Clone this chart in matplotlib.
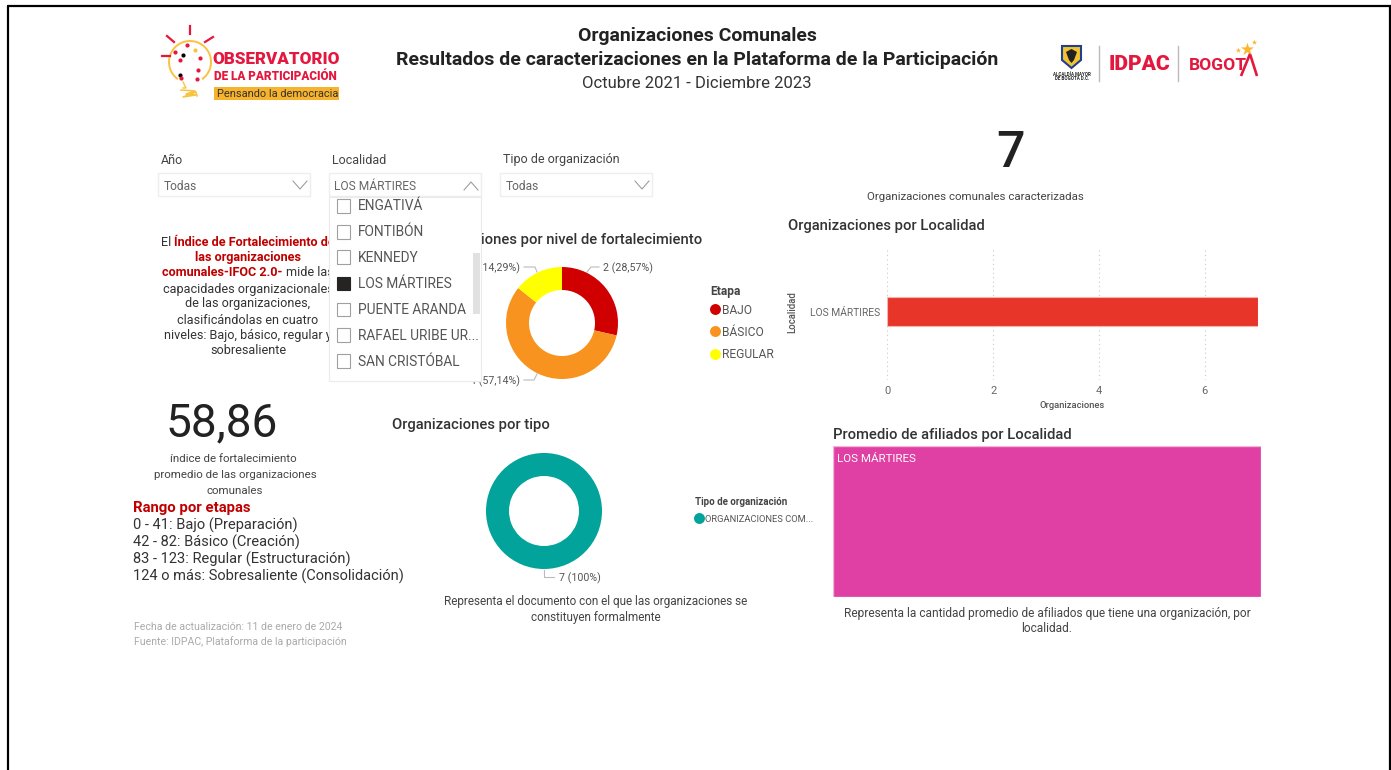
import matplotlib
matplotlib.use("Agg")
import matplotlib.pyplot as plt
from matplotlib.patches import Rectangle, Polygon, Arc

plt.rcParams['font.family'] = ['Roboto', 'DejaVu Sans']

W, H = 1391, 770
DPI = 100

# ---- data ----
etapas = ['BAJO', 'BÁSICO', 'REGULAR']
etapa_values = [2, 4, 1]
etapa_labels = ['2 (28,57%)', '4 (57,14%)', '1 (14,29%)']
etapa_colors = ['#D10000', '#F7931E', '#FFFF00']

tipos = ['ORGANIZACIONES COM...']
tipo_values = [7]
tipo_labels = ['7 (100%)']
tipo_colors = ['#01A39A']

localidades = ['LOS MÁRTIRES']
localidad_values = [7]
localidad_ticks = [0, 2, 4, 6]

afiliados_localidades = ['LOS MÁRTIRES']
afiliados_share = [1]

total_org = '7'
indice = '58,86'

slicer_items = ['ENGATIVÁ', 'FONTIBÓN', 'KENNEDY', 'LOS MÁRTIRES',
                'PUENTE ARANDA', 'RAFAEL URIBE UR...', 'SAN CRISTÓBAL']
slicer_selected = 'LOS MÁRTIRES'

rangos = ['0 - 41: Bajo (Preparación)', '42 - 82: Básico (Creación)',
          '83 - 123: Regular (Estructuración)', '124 o más: Sobresaliente (Consolidación)']

DARK = '#333333'


def px(s):
    return s * 72 / DPI


fig = plt.figure(figsize=(W / DPI, H / DPI), dpi=DPI, facecolor='white')


def make_axes(x0, y0, x1, y1, z):
    return fig.add_axes([x0 / W, 1 - y1 / H, (x1 - x0) / W, (y1 - y0) / H], zorder=z)


bg = make_axes(0, 0, W, H, 0)
bg.set_xlim(0, W)
bg.set_ylim(H, 0)
bg.axis('off')
top = make_axes(0, 0, W, H, 5)
top.set_xlim(0, W)
top.set_ylim(H, 0)
top.axis('off')
top.patch.set_alpha(0)


def T(x, y, s, size=12, color=DARK, ha='left', va='center', weight='normal', ax=bg, **kw):
    return ax.text(x, y, s, fontsize=px(size), color=color, ha=ha, va=va,
                   fontweight=weight, **kw)


# frame
for xs, ys in [((8, 8), (6, H)), ((7, 1390.5), (6, 6)), ((1389.5, 1389.5), (6, H))]:
    bg.plot(xs, ys, color='black', lw=2.2 * 0.72, solid_capstyle='butt')

# header
T(697, 36, 'Organizaciones Comunales', 19.4, '#222222', ha='center', weight='bold')
T(697, 60, 'Resultados de caracterizaciones en la Plataforma de la Participación', 19.5, '#222222',
  ha='center', weight='bold')
T(697, 83, 'Octubre 2021 - Diciembre 2023', 16.6, '#333333', ha='center')

# left logo
RED = '#E4173E'
bg.add_patch(Arc((190, 62), 42, 42, theta1=-235, theta2=55, color='#F9C342', lw=1.4))
bg.plot([183, 186, 183], [82, 88, 88], color='#F9C342', lw=1)
for pts in [((190, 190), (26, 34)), ((167, 174), (36, 42)), ((205, 213), (42, 37)), ((162, 170), (56, 56))]:
    bg.plot(*pts, color=RED, lw=1.6)
for x, y, c in [(187, 45, RED), (183, 55, 'black'), (195, 50, '#F9C342'), (175, 52, RED), (180, 75, 'black'),
                (200, 58, RED), (180, 60, RED), (198, 70, RED), (181, 78, RED), (197, 79, RED)]:
    bg.scatter([x], [y], s=9, color=c, linewidths=0, zorder=3)
bg.plot([181, 195, 186, 196, 183, 196, 197], [90, 91, 94, 95, 97, 92, 96], color='#F9C342', lw=1.1)
T(212, 59, 'OBSERVATORIO', 17, RED, weight='black')
T(214, 77, 'DE LA PARTICIPACIÓN', 11.8, RED, weight='black')
bg.add_patch(Rectangle((214, 87), 125, 13, color='#F7B32B', lw=0))
T(217, 94, 'Pensando la democracia', 11, '#333333')

# right logo
bg.add_patch(Polygon([(1062, 46), (1081, 46), (1081, 60), (1071.5, 68), (1062, 60)], closed=True,
                     facecolor='#F2C230', edgecolor='#1F3F8F', lw=1.5))
bg.add_patch(Polygon([(1066, 52), (1071.5, 49), (1077, 52), (1074, 60), (1071.5, 63), (1069, 60)], closed=True,
                     facecolor='#222222', lw=0))
T(1072, 74, 'ALCALDÍA MAYOR', 4.5, '#222222', ha='center', weight='bold')
T(1072, 79, 'DE BOGOTÁ D.C.', 4.5, '#222222', ha='center', weight='bold')
bg.plot([1099, 1099], [46, 81], color='#BBBBBB', lw=1)
bg.plot([1178, 1178], [46, 81], color='#BBBBBB', lw=1)
T(1109, 64, 'IDPAC', 21, '#E4173E', weight='black')
T(1189, 66, 'BOGOT', 17.5, '#E4173E', weight='bold')
bg.plot([1241, 1250, 1257], [76, 54, 76], color='#E4173E', lw=1.9, solid_capstyle='butt')
bg.scatter([1247], [49], marker='*', s=95, color='#FBB62B', linewidths=0, zorder=3)
bg.scatter([1254], [42], marker='*', s=16, color='#FBB62B', linewidths=0, zorder=3)
bg.scatter([1238], [50], marker='*', s=16, color='#FBB62B', linewidths=0, zorder=3)

# slicers
for x0, name, val, arrow_up in [(158, 'Año', 'Todas', False), (329, 'Localidad', 'LOS MÁRTIRES', True),
                                (500, 'Tipo de organización', 'Todas', False)]:
    T(x0 + 3, 160, name, 12.5, '#444444')
    bg.add_patch(Rectangle((x0, 173), 152, 23, facecolor='white', edgecolor='#EEEEEE', lw=1))
    T(x0 + 5.5, 186, val, 12, '#666666')
    ax_x = x0 + 135
    ys_ = [190, 182, 190] if arrow_up else [181, 189, 181]
    bg.plot([ax_x, ax_x + 7, ax_x + 14], ys_, color='#999999', lw=0.75)

# total
T(1010, 153, total_org, 50, '#222222', ha='center', weight='medium')
T(975, 197, 'Organizaciones comunales caracterizadas', 11.5, '#444444', ha='center')

# explanation paragraph with mixed colours
RED_TXT = '#C00000'
para = [
    (242, [('El ', DARK), ('Índice de Fortalecimiento de', RED_TXT)]),
    (258, [('las organizaciones', RED_TXT)]),
    (273, [('comunales-IFOC 2.0- ', RED_TXT), ('mide las', DARK)]),
    (289, [('capacidades organizacionales', DARK)]),
    (304, [('de las organizaciones,', DARK)]),
    (320, [('clasificándolas en cuatro', DARK)]),
    (335, [('niveles: Bajo, básico, regular y', DARK)]),
    (351, [('sobresaliente', DARK)]),
]
PARA_SIZE = 12.6
fig.canvas.draw()
rend = fig.canvas.get_renderer()
for y, runs in para:
    widths = []
    for s, c in runs:
        w_ = bg.text(0, 0, s.replace(' ', '\u00a0'), fontsize=px(PARA_SIZE),
                     fontweight='bold' if c == RED_TXT else 'normal')
        widths.append(w_.get_window_extent(rend).width)
        w_.remove()
    x = 248 - sum(widths) / 2
    for (s, c), w_ in zip(runs, widths):
        T(x, y, s.replace(' ', '\u00a0'), PARA_SIZE, c, weight='bold' if c == RED_TXT else 'normal')
        x += w_

# KPI
T(222, 423, indice, 46, '#222222', ha='center')
T(233, 459, 'índice de fortalecimiento', 11.5, '#444444', ha='center')
T(235, 475, 'promedio de las organizaciones', 11.5, '#444444', ha='center')
T(235, 491, 'comunales', 11.5, '#444444', ha='center')
T(133, 508, 'Rango por etapas', 14.9, RED_TXT, weight='bold')
for y, s in zip([525, 542, 559, 576], rangos):
    T(133, y, s, 14.6, '#333333')
T(134, 627, 'Fecha de actualización: 11 de enero de 2024', 10.5, '#aaaaaa')
T(134, 642, 'Fuente: IDPAC, Plataforma de la participación', 10.5, '#aaaaaa')

# donut 1
T(702, 240, 'Organizaciones por nivel de fortalecimiento', 14.7, '#333333', ha='right', weight='medium')
R1 = 56
d1 = make_axes(562 - R1, 323 - R1, 562 + R1, 323 + R1, 1)
d1.pie(etapa_values, colors=etapa_colors, startangle=90, counterclock=False, radius=1,
       wedgeprops={'width': 23 / 56, 'linewidth': 0})
d1.set_xlim(-1, 1)
d1.set_ylim(-1, 1)
LEAD = '#BBBBBB'
bg.plot([587, 591, 599], [272, 267, 267], color=LEAD, lw=0.8)
T(603, 268, etapa_labels[0], 10.6, '#555555')
bg.plot([537, 535, 524], [272, 267, 267], color=LEAD, lw=0.8)
T(520, 268, etapa_labels[2], 10.6, '#555555', ha='right')
bg.plot([537, 534, 524], [374, 380, 380], color=LEAD, lw=0.8)
T(520, 381, etapa_labels[1], 10.6, '#555555', ha='right')

# legend 1
T(710, 292, 'Etapa', 12, '#444444', weight='bold')
for y, name, c in zip([309, 331, 354], etapas, etapa_colors):
    bg.scatter([715], [y], s=62, color=c, linewidths=0)
    T(722, y + 1, name, 12, '#555555')

# donut 2
T(471, 425, 'Organizaciones por tipo', 14.7, '#333333', ha='center', weight='medium')
R2 = 58
d2 = make_axes(544 - R2, 511 - R2, 544 + R2, 511 + R2, 1)
d2.pie(tipo_values, colors=tipo_colors, startangle=90, counterclock=False, radius=1,
       wedgeprops={'width': 23 / 58, 'linewidth': 0})
d2.set_xlim(-1, 1)
d2.set_ylim(-1, 1)
bg.plot([544, 544, 554], [570, 577, 577], color=LEAD, lw=0.8)
T(559, 578, tipo_labels[0], 10.6, '#555555')
T(695, 502, 'Tipo de organización', 9.8, '#444444', weight='bold')
bg.scatter([699], [518], s=62, color=tipo_colors[0], linewidths=0)
T(705, 519.5, tipos[0], 9.4, '#555555')
T(596, 602, 'Representa el documento con el que las organizaciones se', 11.7, '#444444', ha='center')
T(596, 617, 'constituyen formalmente', 11.7, '#444444', ha='center')

# bar chart
T(788, 226, 'Organizaciones por Localidad', 14.7, '#333333', weight='medium')
b = make_axes(887.3, 247, 1257.7, 380, 1)
b.barh(localidades, localidad_values, height=29 / 133, color='#E7352A', edgecolor='#F5B5AE', linewidth=0.8, zorder=3)
b.set_xlim(0, 7)
b.set_ylim(-68.5 / 133, 64.5 / 133)
b.set_xticks(localidad_ticks)
b.grid(axis='x', color='#C8C8C8', linestyle=(0, (1, 3)), linewidth=0.8, zorder=0)
b.set_axisbelow(True)
for s in b.spines.values():
    s.set_visible(False)
b.tick_params(axis='both', length=0, labelcolor='#666666')
b.tick_params(axis='x', pad=4, labelsize=px(11))
b.tick_params(axis='y', pad=5, labelsize=px(10.3))
b.patch.set_alpha(0)
T(1072, 406, 'Organizaciones', 9.4, '#555555', ha='center', weight='medium')
T(792, 312, 'Localidad', 9.6, '#555555', ha='center', rotation=90, weight='medium')

# treemap
T(833, 435, 'Promedio de afiliados por Localidad', 14.7, '#333333', weight='medium')
tm = make_axes(833, 446, 1261, 597, 1)
tm.bar([0], afiliados_share, width=afiliados_share[0], align='edge', color='#E040A3',
       edgecolor='#F3B3D9', linewidth=1)
tm.set_xlim(0, 1)
tm.set_ylim(0, 1)
tm.axis('off')
T(837, 459, afiliados_localidades[0], 11.5, 'white', ax=top)
T(1047, 613, 'Representa la cantidad promedio de afiliados que tiene una organización, por', 11.9, '#444444', ha='center')
T(1047, 629, 'localidad.', 11.9, '#444444', ha='center')

# opened dropdown, lies above the charts
top.add_patch(Rectangle((329, 197), 152, 183.5, facecolor='white', edgecolor='#EBEBEB', lw=0.8, zorder=1))
top.add_patch(Rectangle((473, 253), 7, 61, facecolor='#E1E1E1', lw=0, zorder=2))
for y, item in zip([206, 232, 257, 283.5, 309.5, 335, 361], slicer_items):
    sel = item == slicer_selected
    top.add_patch(Rectangle((336.5, y - 7), 13.5, 13.5, facecolor='#252423' if sel else 'white',
                            edgecolor='#252423' if sel else '#A0A0A0', lw=0.8, zorder=3))
    T(358, y + 0.5, item, 13.7, '#555555', ax=top, zorder=3)

fig.savefig('out.png', dpi=DPI, facecolor='white')
